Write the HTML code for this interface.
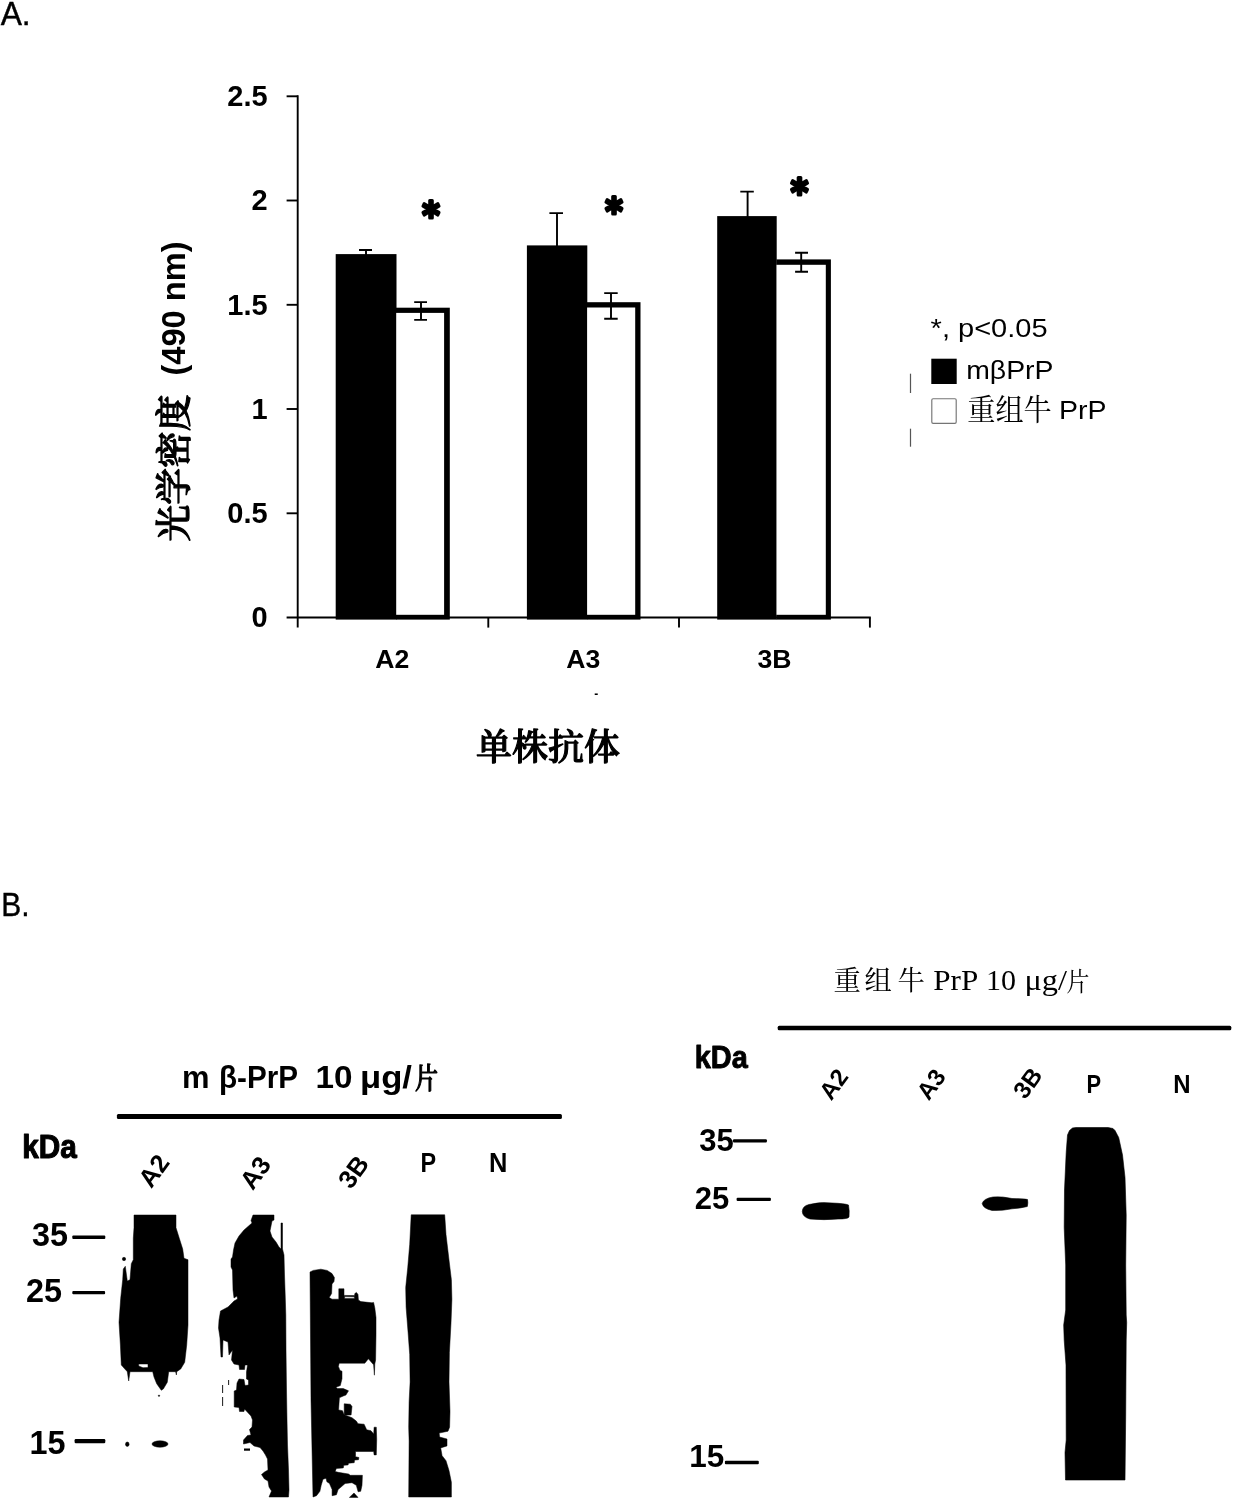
<!DOCTYPE html>
<html lang="zh">
<head>
<meta charset="utf-8">
<title>Figure</title>
<style>
html,body{margin:0;padding:0;background:#fff;}
body{width:1240px;height:1500px;overflow:hidden;position:relative;}
svg{position:absolute;left:0;top:0;display:block;}
.sb{font-family:"Liberation Sans","Noto Sans CJK SC",sans-serif;font-weight:700;fill:#000;}
.sm{font-family:"Liberation Sans","Noto Sans CJK SC",sans-serif;font-weight:400;fill:#000;stroke:#000;stroke-width:0.75px;stroke-linejoin:round;}
.sr{font-family:"Liberation Sans","Noto Sans CJK SC",sans-serif;font-weight:400;fill:#000;}
.kb{font-family:"Liberation Serif","Noto Serif CJK SC",serif;font-weight:500;fill:#000;stroke:#000;stroke-width:1.2px;stroke-linejoin:round;}
.kr{font-family:"Liberation Serif","Noto Serif CJK SC",serif;font-weight:400;fill:#000;}
.tr{font-family:"Liberation Serif","Noto Serif CJK SC",serif;font-weight:400;fill:#000;}
</style>
</head>
<body>
<svg width="1240" height="1500" viewBox="0 0 1240 1500">
<rect x="0" y="0" width="1240" height="1500" fill="#fff"/>

<!-- ===================== PART A ===================== -->
<g id="partA">
<text class="sr" x="0.7" y="24.8" font-size="33.5" textLength="30" lengthAdjust="spacingAndGlyphs" stroke="#000" stroke-width="0.4">A.</text>

<!-- axes -->
<g stroke="#000" stroke-width="1.9" fill="none">
<line x1="297.7" y1="95.3" x2="297.7" y2="627.6"/>
<line x1="286.6" y1="617.5" x2="870.8" y2="617.5"/>
<line x1="286.6" y1="96.3" x2="297.7" y2="96.3"/>
<line x1="286.6" y1="200.5" x2="297.7" y2="200.5"/>
<line x1="286.6" y1="304.8" x2="297.7" y2="304.8"/>
<line x1="286.6" y1="409" x2="297.7" y2="409"/>
<line x1="286.6" y1="513.3" x2="297.7" y2="513.3"/>
<line x1="488.3" y1="617.5" x2="488.3" y2="627.6"/>
<line x1="679" y1="617.5" x2="679" y2="627.6"/>
<line x1="869.9" y1="617.5" x2="869.9" y2="627.6"/>
</g>

<!-- y tick labels -->
<g class="sb" font-size="29" text-anchor="end">
<text x="267.6" y="106.2">2.5</text>
<text x="267.6" y="210.4">2</text>
<text x="267.6" y="314.7">1.5</text>
<text x="267.6" y="418.9">1</text>
<text x="267.6" y="523.2">0.5</text>
<text x="267.6" y="627.4">0</text>
</g>

<!-- bars -->
<g id="bars">
<!-- A2 -->
<rect x="335.7" y="254.1" width="60.8" height="365.5" fill="#000"/>
<rect x="396" y="307.7" width="53.8" height="311.9" fill="#000"/>
<rect x="396.2" y="312.9" width="47.9" height="301.9" fill="#fff"/>
<!-- A3 -->
<rect x="526.9" y="245.4" width="60.4" height="374.2" fill="#000"/>
<rect x="587" y="302.2" width="53.5" height="317.4" fill="#000"/>
<rect x="587.1" y="307.5" width="48.1" height="307.3" fill="#fff"/>
<!-- 3B -->
<rect x="717.2" y="216.1" width="59.5" height="403.5" fill="#000"/>
<rect x="776.4" y="259.4" width="54.5" height="360.2" fill="#000"/>
<rect x="776.5" y="264.8" width="49.3" height="350" fill="#fff"/>
</g>

<!-- error bars -->
<g stroke="#000" stroke-width="1.9" fill="none">
<path d="M366 250V256M359 250H372"/>
<path d="M421 302.1V319.9M414.2 302.1H427M414.2 319.9H427"/>
<path d="M557 213.1V248M549.4 213.1H563"/>
<path d="M611 293.1V318.7M604.2 293.1H617.7M604.2 318.7H617.7"/>
<path d="M747.6 191.6V218M740.3 191.6H753.8"/>
<path d="M801.2 252.8V271.7M795.1 252.8H808M795.1 271.7H808"/>
</g>

<!-- asterisks -->
<g font-size="34.5" text-anchor="middle" style="font-family:'DejaVu Sans','Liberation Sans',sans-serif;font-weight:700" fill="#000" stroke="#000" stroke-width="3" stroke-linejoin="round">
<text transform="translate(431.1,209) scale(0.97,1.06)" x="0" y="18.1">*</text>
<text transform="translate(614.1,204.5) scale(0.97,1.06)" x="0" y="18.1">*</text>
<text transform="translate(799.6,185.5) scale(0.97,1.06)" x="0" y="18.1">*</text>
</g>

<!-- category labels -->
<g class="sb" font-size="26.6" text-anchor="middle">
<text x="392.3" y="668.3">A2</text>
<text x="583.3" y="668.3">A3</text>
<text x="774.4" y="668.3">3B</text>
</g>
<text class="sb" x="594.3" y="698.3" font-size="12">-</text>

<!-- x title -->
<text class="kb" x="476" y="759.7" font-size="36" textLength="144" lengthAdjust="spacingAndGlyphs">单株抗体</text>

<!-- y title -->
<g transform="translate(186.8,541.5) rotate(-90)">
<text class="kb" x="0" y="0" font-size="36" textLength="147" lengthAdjust="spacingAndGlyphs">光学密度</text>
<text class="sb" x="166" y="-1.8" font-size="33" textLength="134" lengthAdjust="spacingAndGlyphs">(490 nm)</text>
</g>

<!-- legend -->
<text class="sr" x="930.6" y="336.6" font-size="26" textLength="117" lengthAdjust="spacingAndGlyphs">*, p&lt;0.05</text>
<rect x="931.3" y="358.7" width="25.4" height="25.3" fill="#000"/>
<text class="sr" x="966.2" y="379" font-size="26" textLength="87.3" lengthAdjust="spacingAndGlyphs">mβPrP</text>
<rect x="931.8" y="398.7" width="24.4" height="24.6" rx="1.3" fill="#fff" stroke="#757575" stroke-width="1.15"/>
<text class="kr" x="967.2" y="420.3" font-size="29.5" textLength="84.6" lengthAdjust="spacingAndGlyphs">重组牛</text>
<text class="sr" x="1059" y="419" font-size="26" textLength="47.5" lengthAdjust="spacingAndGlyphs">PrP</text>
<rect x="909.9" y="373.7" width="1.2" height="19.3" fill="#555"/>
<rect x="909.9" y="428.7" width="1.2" height="18" fill="#555"/>
</g>

<!-- ===================== PART B ===================== -->
<g id="partB">
<text class="sr" x="1.2" y="915.8" font-size="33" textLength="28.3" lengthAdjust="spacingAndGlyphs" stroke="#000" stroke-width="0.4">B.</text>
<!-- left blot -->
<g id="leftblot">
<text class="sb" y="1087.7" font-size="31"><tspan x="182" textLength="27.5" lengthAdjust="spacingAndGlyphs">m</tspan><tspan x="219" textLength="79" lengthAdjust="spacingAndGlyphs">β-PrP</tspan><tspan x="315.5" textLength="37" lengthAdjust="spacingAndGlyphs">10</tspan><tspan x="360" textLength="52" lengthAdjust="spacingAndGlyphs">μg/</tspan></text>
<text class="kb" x="415" y="1089" font-size="29" textLength="23" lengthAdjust="spacingAndGlyphs">片</text>
<rect x="116.9" y="1114" width="445" height="4.9" rx="1.5" fill="#000"/>
<text class="sb" x="22.2" y="1158" font-size="33.6" textLength="54.6" lengthAdjust="spacingAndGlyphs" stroke="#000" stroke-width="1.1" stroke-linejoin="round">kDa</text>
<g class="sb" font-size="24" text-anchor="middle">
<text transform="translate(153.6,1170.8) rotate(-54)" x="0" y="9" font-size="25.6">A2</text>
<text transform="translate(255.1,1172.7) rotate(-54)" x="0" y="9" font-size="25.6">A3</text>
<text transform="translate(353.3,1171.8) rotate(-54)" x="0" y="9" font-size="25.6">3B</text>
<text x="428.2" y="1171.9" font-size="27" textLength="15.6" lengthAdjust="spacingAndGlyphs">P</text>
<text x="498.3" y="1171.9" font-size="27" textLength="18.4" lengthAdjust="spacingAndGlyphs">N</text>
</g>
<g class="sb" font-size="32.5">
<text x="32" y="1246.3" textLength="36" lengthAdjust="spacingAndGlyphs">35</text>
<text x="26" y="1301.8" textLength="36" lengthAdjust="spacingAndGlyphs">25</text>
<text x="29.5" y="1454.2" textLength="36" lengthAdjust="spacingAndGlyphs">15</text>
</g>
<rect x="72.3" y="1235.6" width="33" height="3.3" rx="1" fill="#000"/>
<rect x="72.3" y="1291" width="32.8" height="3.3" rx="1" fill="#000"/>
<rect x="74.6" y="1439" width="30.7" height="4.2" rx="1.2" fill="#000"/>
<g fill="#000" stroke="#000" stroke-width="0.5" stroke-linejoin="round">
<!-- lane A2 -->
<path fill-rule="evenodd" d="M134 1215L176 1215L176 1227.7L179.3 1238.3L182.7 1249L184 1258.3L188 1259.7L188 1325L186.7 1345L184.7 1362.3L180.7 1369L176.7 1371.7L176.4 1375L175.6 1371.7L168.7 1371.7L167.3 1382.3L163.3 1389L161.3 1390.3L156.7 1383.7L154 1377L152.7 1371.7L130 1371.7L128.7 1381L127.3 1371.7L126 1370.3L121.3 1365L120.4 1345L119 1322.3L120.7 1298.3L122.7 1279.7L123.3 1269L125.3 1266.3L127.3 1281L130 1279.7L131.3 1263.7L133.3 1259.7L133.3 1238.3L134 1227.7ZM138.7 1364L148 1364L148 1367.5L143 1367.7L138.7 1366Z"/>
<circle cx="124" cy="1259" r="1.7"/>
<ellipse cx="160" cy="1444" rx="8" ry="3.2"/>
<ellipse cx="127.3" cy="1444.2" rx="1.8" ry="2.2"/>
<circle cx="159" cy="1395.7" r="0.7"/>
<!-- lane A3 -->
<path d="M253 1215L274 1215L274 1220L272 1221L270 1231L272 1237L276 1242L279 1247L281 1249L281 1223L282.5 1223L282.5 1249L284 1255L284.5 1275L285.2 1295L285.8 1315L286 1350L286.5 1390L287 1420L287.5 1445L288.5 1470L289 1490L288.5 1497L269 1497L271.5 1491L269 1487L268 1481L264.5 1479L261.5 1474.5L264.5 1472L268 1470L267.5 1459L265.5 1455L263 1451L260 1447.5L254 1446L250 1442.5L243.5 1444L243.5 1440L247.5 1435.5L251 1435L249.5 1429.5L252 1427L252.5 1420L251 1416L244.5 1409L244 1411.5L239.5 1411.5L239 1407.5L234.2 1407L234.2 1391L236.5 1390L237 1383L239 1379L244 1379.5L245 1385.5L248.5 1385L248.5 1380L246.5 1379L246.5 1372L247.5 1365L245 1365L244.5 1369.5L239.5 1369.5L239 1365L234 1364L231.5 1360L232.5 1350L229 1355L228 1342L223 1340L222.5 1357L221 1357L220 1338L218.5 1328L219 1320L220.5 1311L228 1307L234 1301L237.5 1299L237 1296L234 1298L233 1290L232.5 1270L231 1267L231 1259L232.5 1257L233.5 1250L235 1243L239 1236L244 1230L252 1223L251 1220.5Z"/>
<rect x="244" y="1448.5" width="6" height="2.2" stroke="none"/>
<rect x="222.2" y="1385" width="0.9" height="8" stroke="none"/>
<rect x="222.2" y="1397" width="0.9" height="9" stroke="none"/>
<rect x="228.2" y="1380" width="0.9" height="5" stroke="none"/>
<!-- lane 3B -->
<path fill-rule="evenodd" d="M310 1272L313.2 1270.4L320.8 1269.2L327.2 1270.4L332 1273.6L334.4 1277.6L334 1281.6L332 1284L331.6 1293.6L329.2 1297.6L332 1299.2L338.8 1299.2L338.8 1288.8L344 1288.8L344 1295.4L354.6 1295.6L354.8 1293.6L356.4 1292.4L358 1294.4L358.4 1300L360.8 1301.6L372 1302.8L373.6 1302.4L374.8 1308L376 1317.6L376 1334.4L375.6 1360L374.8 1364L374.4 1375.2L373.6 1364.8L368.4 1358.8L364.8 1363.2L339.2 1363.2L338.4 1366.4L340 1370.4L342 1371.2L342 1378.7L340.3 1385.6L336 1387.3L337.3 1388.6L343.3 1388.6L348.5 1390.8L345.9 1395.1L343.3 1396L339.4 1397.7L338.6 1409.9L342.5 1410.7L344.2 1415L344.2 1403.8L350.3 1404.2L352 1406.4L351.1 1415L345 1415L352 1417.7L356.3 1421.1L358 1423.7L364.1 1424.2L366.7 1429.8L371 1430.7L373.7 1434.1L374.1 1427.2L376.3 1427.2L376.7 1439.3L376.3 1454.9L374.1 1454.9L373.7 1451.5L355.5 1451.5L355.5 1456.7L358.9 1457.5L358.5 1459.7L354.6 1460.1L354.2 1462.7L348.5 1463.2L348.1 1464.9L343.8 1465.3L343.3 1467.9L336.4 1468.4L335.1 1471.4L338.1 1472.3L348.5 1474L350.3 1475.3L362.4 1475.3L362 1485.3L360.7 1491.3L358.1 1491.8L356.3 1485.3L352 1482.7L345.1 1483.5L338.1 1489.6L336.4 1494.8L332.1 1495.7L332.1 1489.6L329.5 1483.5L326.9 1481.8L326 1478.3L323 1479.2L321.2 1485.3L319.9 1491.3L316.5 1495.7L313 1497L311 1400ZM344.6 1296.6L354.4 1296.8L354.4 1298.4L344.6 1298.4ZM349.4 1497.4L354 1493L358 1497.4Z"/>
<!-- lane P -->
<path d="M411.2 1214.8L444.7 1214.8L446 1234.5L449 1260L451.4 1279.7L451.9 1299.4L451 1323L449.4 1352.5L449 1382L450 1411.5L449.6 1427.2L448 1431.2L439.2 1433.1L439.6 1437L447 1439L447 1445.9L440.7 1447.9L442.1 1455.7L446 1460.7L449 1470.5L451.4 1482.3L451.4 1497L408.7 1497L409.1 1441L408.7 1427.2L409.1 1401.7L410.1 1382L409.7 1354.5L408.1 1332.8L406.1 1307.3L405.7 1287.6L407.7 1267.9L409.7 1244.3Z"/>
</g>
</g>

<!-- right blot -->
<g id="rightblot">
<text class="tr" y="990.2" font-size="28.5"><tspan x="833.6 864.6 897.4" font-size="27.4">重组牛</tspan><tspan x="933.3" textLength="45" lengthAdjust="spacingAndGlyphs">PrP</tspan><tspan x="986" textLength="30" lengthAdjust="spacingAndGlyphs">10</tspan><tspan x="1024.5" textLength="42.5" lengthAdjust="spacingAndGlyphs">μg/</tspan><tspan x="1066.5" font-size="26" dy="0.5" textLength="23" lengthAdjust="spacingAndGlyphs">片</tspan></text>
<rect x="777.7" y="1025.7" width="453.6" height="4.5" rx="1.5" fill="#000"/>
<text class="sb" x="694.8" y="1067.8" font-size="31.5" textLength="53" lengthAdjust="spacingAndGlyphs" stroke="#000" stroke-width="0.9" stroke-linejoin="round">kDa</text>
<g class="sb" font-size="24" text-anchor="middle">
<text transform="translate(833.5,1084) rotate(-54)" x="0" y="8.5">A2</text>
<text transform="translate(931,1084) rotate(-54)" x="0" y="8.5">A3</text>
<text transform="translate(1027.5,1082.8) rotate(-54)" x="0" y="8.5">3B</text>
<text x="1093.8" y="1092.6" font-size="25.4" textLength="14.6" lengthAdjust="spacingAndGlyphs">P</text>
<text x="1181.9" y="1092.7" font-size="25.4" textLength="17.3" lengthAdjust="spacingAndGlyphs">N</text>
</g>
<g class="sb" font-size="31.5">
<text x="699.3" y="1150.6" textLength="34.5" lengthAdjust="spacingAndGlyphs">35</text>
<text x="694.8" y="1208.8" textLength="34.5" lengthAdjust="spacingAndGlyphs">25</text>
<text x="689.3" y="1467" textLength="35" lengthAdjust="spacingAndGlyphs">15</text>
</g>
<rect x="733" y="1139.2" width="33.9" height="3.2" rx="1" fill="#000"/>
<rect x="736.6" y="1197.7" width="34.3" height="3.2" rx="1" fill="#000"/>
<rect x="724.9" y="1460.8" width="33.9" height="3.5" rx="1" fill="#000"/>
<g fill="#000" stroke="#000" stroke-width="0.6" stroke-linejoin="round">
<path d="M802.3 1211.5Q802.5 1206 809 1204.5Q820 1201.5 832 1203Q845 1203.5 848.5 1205Q849.6 1211 849 1217Q848 1219 838 1219Q824 1220.3 810 1219Q802.5 1217 802.3 1211.5Z"/>
<path d="M982.2 1203.5Q983.5 1198.5 993 1197Q1003 1196.3 1012 1198.5Q1024 1198.8 1027.5 1199.5Q1028.2 1203 1027.3 1206.5Q1020 1208.3 1012 1208.8Q1002 1211 992 1210.4Q983 1208.5 982.2 1203.5Z"/>
<path d="M1072.5 1128L1076 1127.5L1108 1127.5L1113 1128.5L1115 1130.5L1118.7 1137.5L1122.5 1155L1125 1177.5L1126.2 1215L1125.7 1265L1126.2 1315L1126.7 1322.5L1126.2 1340L1125.7 1415L1125 1480L1065.5 1480L1065 1452.5L1066.2 1440L1066 1365L1064.2 1340L1063.7 1325L1065.7 1310L1065.7 1265L1064.2 1227.5L1064.5 1190L1066.2 1152.5L1067.5 1135L1069.5 1130.5Z"/>
</g>
</g>

</g>
</svg>
</body>
</html>
